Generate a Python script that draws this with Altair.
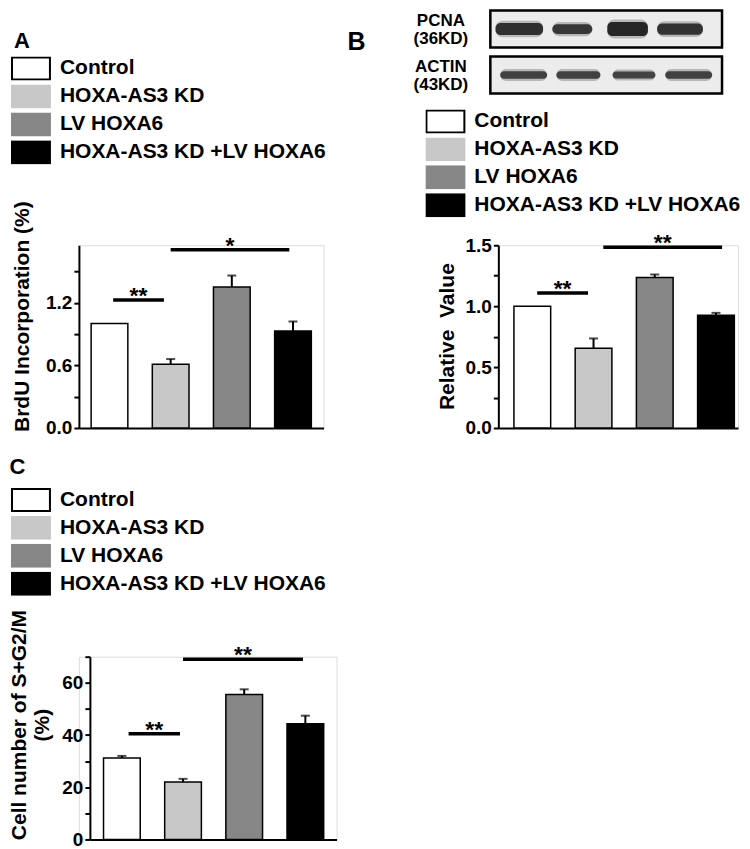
import altair as alt
import pandas as pd

FONT = "Liberation Sans"

# ---------------- data ----------------
groups = ["Control", "HOXA-AS3 KD", "LV HOXA6", "HOXA-AS3 KD +LV HOXA6"]
fill_colors = ["#ffffff", "#c8c8c8", "#878787", "#000000"]

# Panel A: BrdU incorporation
brdu_mean = [1.00, 0.61, 1.35, 0.93]
brdu_err = [0.00, 0.05, 0.11, 0.09]
brdu_sig_from = [0.06, 1.00]
brdu_sig_to = [0.89, 2.94]
brdu_sig_y = [1.225, 1.706]
brdu_sig_text = ["**", "*"]
brdu_ticks = [0.0, 0.3, 0.6, 0.9, 1.2, 1.5]

# Panel B: PCNA relative value
pcna_mean = [1.00, 0.655, 1.235, 0.925]
pcna_err = [0.00, 0.08, 0.025, 0.02]
pcna_sig_from = [0.08, 1.16]
pcna_sig_to = [0.91, 3.10]
pcna_sig_y = [1.109, 1.484]
pcna_sig_text = ["**", "**"]
pcna_ticks = [0.0, 0.25, 0.5, 0.75, 1.0, 1.25, 1.5]

# Panel C: S+G2/M cells
cell_mean = [31.2, 22.0, 55.5, 44.3]
cell_err = [0.8, 1.2, 2.0, 3.1]
cell_sig_from = [0.11, 1.00]
cell_sig_to = [0.95, 2.96]
cell_sig_y = [40.5, 69.0]
cell_sig_text = ["**", "**"]
cell_ticks = [0, 10, 20, 30, 40, 50, 60, 70]

# Western blot (lane units 0..4)
blot_rows = ["PCNA|(36KD)", "ACTIN|(43KD)"]
n_lanes = 4
pcna_band_start = [0.09, 1.07, 2.02, 2.88]
pcna_band_end = [0.91, 1.76, 2.72, 3.67]
pcna_band_level = [0.85, 0.70, 1.00, 0.80]
actin_band_start = [0.17, 1.14, 2.11, 3.02]
actin_band_end = [0.98, 1.90, 2.85, 3.83]
actin_band_level = [0.55, 0.55, 0.50, 0.55]

RECT_PATH = "M-1,-0.58L1,-0.58L1,0.58L-1,0.58Z"
PLOT_H = 183
legend_strokes = ["#000000"] + fill_colors[1:]


def bar_panel(mean, err, sfrom, sto, sy, stext, ymax, ticks, label_expr,
              xdomain, xrange, ytitle, title_x, title_y, axis_offset,
              legend_x, legend_y, line_height=None):
    d = pd.DataFrame({"group": groups, "pos": list(range(len(groups))),
                      "mean": mean, "err": err})
    d["top"] = d["mean"] + d["err"]
    d["lo"] = d["pos"] - 0.3
    d["hi"] = d["pos"] + 0.3
    s = pd.DataFrame({"x0": sfrom, "x1": sto, "y": sy, "label": stext})
    s["mid"] = (s["x0"] + s["x1"]) / 2

    xs_kw = dict(domain=xdomain, nice=False, zero=False)
    if xrange is not None:
        xs_kw["range"] = xrange
    xs = alt.Scale(**xs_kw)
    xaxis = alt.Axis(orient="bottom", labels=False, ticks=False, title=None, grid=False,
                     domainColor="black", domainWidth=2)
    ys = alt.Scale(domain=[0, ymax], nice=False, zero=True)
    ykw = dict(orient="left", values=ticks, labelExpr=label_expr, title=ytitle, grid=False,
               domainColor="black", domainWidth=2, tickColor="black",
               tickWidth=2, tickSize=5, labelFont=FONT, labelFontSize=19,
               labelFontWeight="bold", labelColor="black", labelPadding=2,
               titleFont=FONT, titleFontSize=21, titleFontWeight="bold",
               titleColor="black", titleAngle=270, titleAlign="center",
               titleBaseline="middle", titleX=title_x, titleY=title_y,
               offset=axis_offset)
    if line_height is not None:
        ykw["titleLineHeight"] = line_height
    yaxis = alt.Axis(**ykw)

    def X(f):
        return alt.X(f"{f}:Q", scale=xs, axis=xaxis)

    def Y(f):
        return alt.Y(f"{f}:Q", scale=ys, axis=yaxis)

    fill_scale = alt.Scale(domain=groups, range=fill_colors)
    legend = alt.Legend(
        orient="none", legendX=legend_x, legendY=legend_y, title=None,
        symbolType=RECT_PATH, symbolSize=1444, symbolStrokeWidth=2,
        symbolOpacity=1, labelFont=FONT, labelFontSize=21,
        labelFontWeight="bold", labelColor="black", labelOffset=9,
        labelLimit=400, rowPadding=4, clipHeight=24, padding=0)
    base = alt.Chart(d)
    err_rule = base.mark_rule(color="black", strokeWidth=2).encode(
        x=X("pos"), y=Y("mean"), y2="top:Q")
    caps = base.transform_filter("datum.err > 0").mark_tick(
        color="black", orient="horizontal", size=9, thickness=2).encode(
        x=X("pos"), y=Y("top"))
    bars = base.mark_rect(stroke="black", strokeWidth=1.5).encode(
        x=X("lo"), x2="hi:Q", y=Y("mean"), y2=alt.datum(0),
        fill=alt.Fill("group:N", scale=fill_scale, legend=legend))
    legend_layer = base.transform_filter("false").mark_rect(strokeWidth=2).encode(
        fill=alt.Fill("group:N", scale=fill_scale, legend=legend),
        stroke=alt.Stroke("group:N", scale=alt.Scale(domain=groups, range=legend_strokes),
                          legend=legend))
    sig_lines = alt.Chart(s).mark_rule(color="black", strokeWidth=3.5).encode(
        x=X("x0"), x2="x1:Q", y=Y("y"))
    stars = alt.Chart(s).mark_text(font=FONT, fontSize=23, fontWeight="bold",
                                   baseline="alphabetic", dy=3, color="black").encode(
        x=X("mid"), y=Y("y"), text="label:N")
    return alt.layer(err_rule, caps, bars, sig_lines, stars, legend_layer)


def letter(txt, size, dx, offset, frame="bounds"):
    return alt.TitleParams(text=txt, anchor="start", frame=frame, font=FONT,
                           fontSize=size, fontWeight="bold", color="black",
                           baseline="alphabetic", dx=dx, offset=offset)


# ---------------- Panel A ----------------
panel_a = bar_panel(
    brdu_mean, brdu_err, brdu_sig_from, brdu_sig_to, brdu_sig_y, brdu_sig_text,
    1.75, brdu_ticks,
    "(round(datum.value*10) % 6 == 0) ? format(datum.value, '.1f') : ''",
    [-0.5, 3.5], None, "BrdU Incorporation (%)", -56, 71, 0, -68, -189,
).properties(width=245, height=PLOT_H, title=letter("A", 22, 3, -13))

# ---------------- Panel B ----------------
main_b = bar_panel(
    pcna_mean, pcna_err, pcna_sig_from, pcna_sig_to, pcna_sig_y, pcna_sig_text,
    1.5, pcna_ticks,
    "(round(datum.value*4) % 2 == 0) ? format(datum.value, '.1f') : ''",
    [-0.555, 3.36], None, "Relative\u00a0 Value", -51, 91, 0, -73, -136,
)

frames_df = pd.DataFrame({"row": blot_rows, "x0": [0, 0], "x1": [n_lanes, n_lanes]})
bands_df = pd.DataFrame({
    "row": [blot_rows[0]] * 4 + [blot_rows[1]] * 4,
    "start": pcna_band_start + actin_band_start,
    "end": pcna_band_end + actin_band_end,
    "level": pcna_band_level + actin_band_level,
})
bx = alt.Scale(domain=[0, n_lanes], range=[-8, 224], nice=False, zero=False)
by = alt.Scale(domain=blot_rows, range=[-235, -152], paddingInner=0.196, paddingOuter=0)
blot_axis = alt.Axis(orient="left", domain=False, ticks=False, tickSize=0,
                     labelPadding=58, labelAlign="center", labelBaseline="middle",
                     labelExpr="split(datum.value, '|')", labelFont=FONT,
                     labelFontSize=17, labelFontWeight="bold", labelColor="black",
                     labelLineHeight=18, labelOffset=-8, title=None, grid=False)
frames = alt.Chart(frames_df).mark_rect(fill="#ececec", stroke="black", strokeWidth=2.5).encode(
    x=alt.X("x0:Q", scale=bx, axis=None), x2="x1:Q",
    y=alt.Y("row:N", scale=by, axis=blot_axis))
halo = alt.Chart(bands_df).mark_bar(color="#555555", cornerRadius=7, opacity=0.35).encode(
    x=alt.X("start:Q", scale=bx, axis=None), x2="end:Q",
    y=alt.Y("row:N", scale=by, axis=blot_axis),
    size=alt.Size("level:Q", scale=alt.Scale(domain=[0.5, 1], range=[11, 19]), legend=None))
core = alt.Chart(bands_df).mark_bar(color="#262626", cornerRadius=5).encode(
    x=alt.X("start:Q", scale=bx, axis=None), x2="end:Q",
    y=alt.Y("row:N", scale=by, axis=blot_axis),
    size=alt.Size("level:Q", scale=alt.Scale(domain=[0.5, 1], range=[7, 14]), legend=None),
    opacity=alt.Opacity("level:Q", scale=alt.Scale(domain=[0.5, 1], range=[0.8, 1]), legend=None))
blot = alt.layer(frames, halo, core).resolve_scale(size="independent")

panel_b = alt.layer(blot, main_b).resolve_scale(
    x="independent", y="independent").properties(
    width=240, height=PLOT_H, title=letter("B", 25, -151, -66, frame="group"))

# ---------------- Panel C ----------------
panel_c = bar_panel(
    cell_mean, cell_err, cell_sig_from, cell_sig_to, cell_sig_y, cell_sig_text,
    70, cell_ticks,
    "(datum.value % 20 == 0) ? format(datum.value, 'd') : ''",
    [-0.523, 3.51], [11, 258], ["Cell number of S+G2/M", "(%)"], -70.5, 68, -11,
    -68, -169, line_height=23,
).properties(width=258, height=PLOT_H, title=letter("C", 22, 1, -8))

chart = alt.concat(panel_a, panel_b, panel_c, columns=2,
                   spacing={"row": 16, "column": 9}).resolve_scale(
    fill="independent", stroke="independent").resolve_legend(
    fill="independent", stroke="independent").properties(
    padding=0, background="white").configure_view(strokeWidth=0).configure(font=FONT)

chart.save("out.html", embed_options={"renderer": "svg", "actions": False})
